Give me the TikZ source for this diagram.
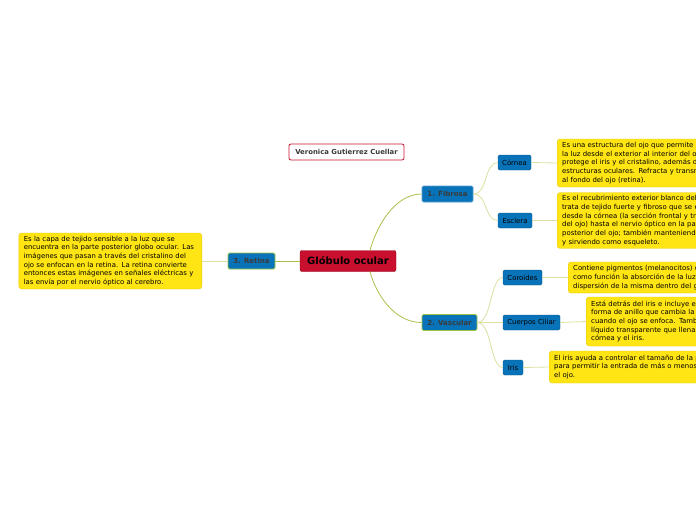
\documentclass[tikz,border=0pt]{standalone}
\usepackage{fontspec}
\setmainfont{DejaVu Sans}
\usetikzlibrary{positioning}

\definecolor{crimson}{HTML}{C8102E}
\definecolor{crimsonline}{HTML}{8E0A1E}
\definecolor{topicblue}{HTML}{0873B8}
\definecolor{topicline}{HTML}{0B5E8F}
\definecolor{limeline}{HTML}{9CC43C}
\definecolor{notefill}{HTML}{FFE514}
\definecolor{noteline}{HTML}{E6C800}
\definecolor{trunkcol}{HTML}{A9C14A}
\definecolor{twigcol}{HTML}{DCDFA0}
\definecolor{labelgray}{HTML}{3A3A3A}

\begin{document}
\begin{tikzpicture}[x=1pt, y=-1pt,
  central/.style = {draw=crimsonline, fill=crimson, rounded corners=2pt, minimum width=96pt,
                    minimum height=21pt, inner sep=2pt, font=\fontsize{10}{12}\selectfont\bfseries},
  author/.style  = {draw=crimson, line width=0.8pt, fill=white, rounded corners=2pt,
                    minimum width=115pt, minimum height=16pt, inner sep=2pt, text=labelgray,
                    font=\fontsize{6.9}{8}\selectfont\bfseries},
  branch/.style  = {draw=limeline, line width=0.8pt, fill=topicblue, rounded corners=1.5pt,
                    minimum height=16pt, inner sep=2pt, text=labelgray,
                    font=\fontsize{7}{8}\selectfont\bfseries},
  leaf/.style    = {draw=topicline, fill=topicblue, rounded corners=1.5pt, minimum height=15pt,
                    inner sep=2pt, font=\fontsize{6.9}{8}\selectfont},
  note/.style    = {draw=noteline, fill=notefill, rounded corners=3pt, anchor=west, align=left,
                    inner xsep=5pt, inner ysep=3pt, font=\fontsize{6.9}{8.65}\selectfont},
  trunk/.style   = {draw=trunkcol, line width=0.8pt},
  twig/.style    = {draw=twigcol, line width=0.8pt},
]
\useasboundingbox (0,0) rectangle (696,520);
\clip (0,0) rectangle (696,520);

% ---- centre and author ------------------------------------------------------
\node[central] (glob) at (348,261) {Glóbulo ocular};
\node[author]  (auth) at (346.5,152) {Veronica Gutierrez Cuellar};

% ---- main branches ----------------------------------------------------------
\node[branch, draw=topicblue!70, minimum width=51pt] (fib) at (447.5,194) {1. Fibrosa};
\node[branch, minimum width=55pt] (vas) at (449.5,322.5) {2. Vascular};
\node[branch, minimum width=47pt] (ret) at (251.5,261) {3. Retina};

\draw[trunk] ([xshift=22pt]glob.north) .. controls (376,228) and (394,194) .. (fib.west);
\draw[trunk] ([xshift=22pt]glob.south) .. controls (376,294) and (394,322.5) .. (vas.west);
\draw[trunk] (glob.west) -- (ret.east);

% ---- 1. Fibrosa -------------------------------------------------------------
\node[leaf, minimum width=33pt] (cor) at (514.5,162.5) {Córnea};
\node[leaf, minimum width=34pt] (scl) at (515,220.5) {Esclera};

\node[note, text width=220pt, minimum height=48pt] (cordesc) at (557,163)
  {Es una estructura del ojo que permite el paso de\\
   la luz desde el exterior al interior del ojo y\\
   protege el iris y el cristalino, además de otras\\
   estructuras oculares. Refracta y transmite la luz\\
   al fondo del ojo (retina).};
\node[note, text width=220pt, minimum height=55pt] (scldesc) at (557,220.5)
  {Es el recubrimiento exterior blanco del ojo. Se\\
   trata de tejido fuerte y fibroso que se extiende\\
   desde la córnea (la sección frontal y transparente\\
   del ojo) hasta el nervio óptico en la parte\\
   posterior del ojo; también manteniendo la forma\\
   y sirviendo como esqueleto.};

\draw[twig] (fib.east) .. controls (488,194) and (484,162.5) .. (cor.west);
\draw[twig] (fib.east) .. controls (488,194) and (484,220.5) .. (scl.west);
\draw[twig] (cor.east) -- (cordesc.west);
\draw[twig] (scl.east) -- (scldesc.west);

% ---- 2. Vascular ------------------------------------------------------------
\node[leaf, minimum width=39pt] (coro) at (522.5,277.5) {Coroides};
\node[leaf, minimum width=57pt] (cil)  at (531.5,322.5) {Cuerpos Ciliar};
\node[leaf, minimum width=20pt] (iris) at (513,367.5)  {Iris};

\node[note, text width=220pt, minimum height=31pt] (corodesc) at (568,277.5)
  {Contiene pigmentos (melanocitos) que tienen\\
   como función la absorción de la luz, evitando la\\
   dispersión de la misma dentro del globo ocular.};
\node[note, text width=220pt, minimum height=49pt] (cildesc) at (586,321.5)
  {Está detrás del iris e incluye el músculo en\\
   forma de anillo que cambia la forma del cristalino\\
   cuando el ojo se enfoca. También produce el\\
   líquido transparente que llena el espacio entre la\\
   córnea y el iris.};
\node[note, text width=220pt, minimum height=32pt] (irisdesc) at (549,367)
  {El iris ayuda a controlar el tamaño de la pupila\\
   para permitir la entrada de más o menos luz en\\
   el ojo.};

\draw[twig] (vas.east) .. controls (492,322.5) and (490,277.5) .. (coro.west);
\draw[twig] (vas.east) -- (cil.west);
\draw[twig] (vas.east) .. controls (492,322.5) and (490,367.5) .. (iris.west);
\draw[twig] (coro.east) -- (corodesc.west);
\draw[twig] (cil.east) -- (cildesc.west);
\draw[twig] (iris.east) -- (irisdesc.west);

% ---- 3. Retina --------------------------------------------------------------
\node[note, anchor=east, text width=173pt, minimum height=56pt] (retdesc) at (202,261)
  {Es la capa de tejido sensible a la luz que se\\
   encuentra en la parte posterior globo ocular. Las\\
   imágenes que pasan a través del cristalino del\\
   ojo se enfocan en la retina. La retina convierte\\
   entonces estas imágenes en señales eléctricas y\\
   las envía por el nervio óptico al cerebro.};
\draw[twig] (ret.west) -- (retdesc.east);

\end{tikzpicture}
\end{document}
